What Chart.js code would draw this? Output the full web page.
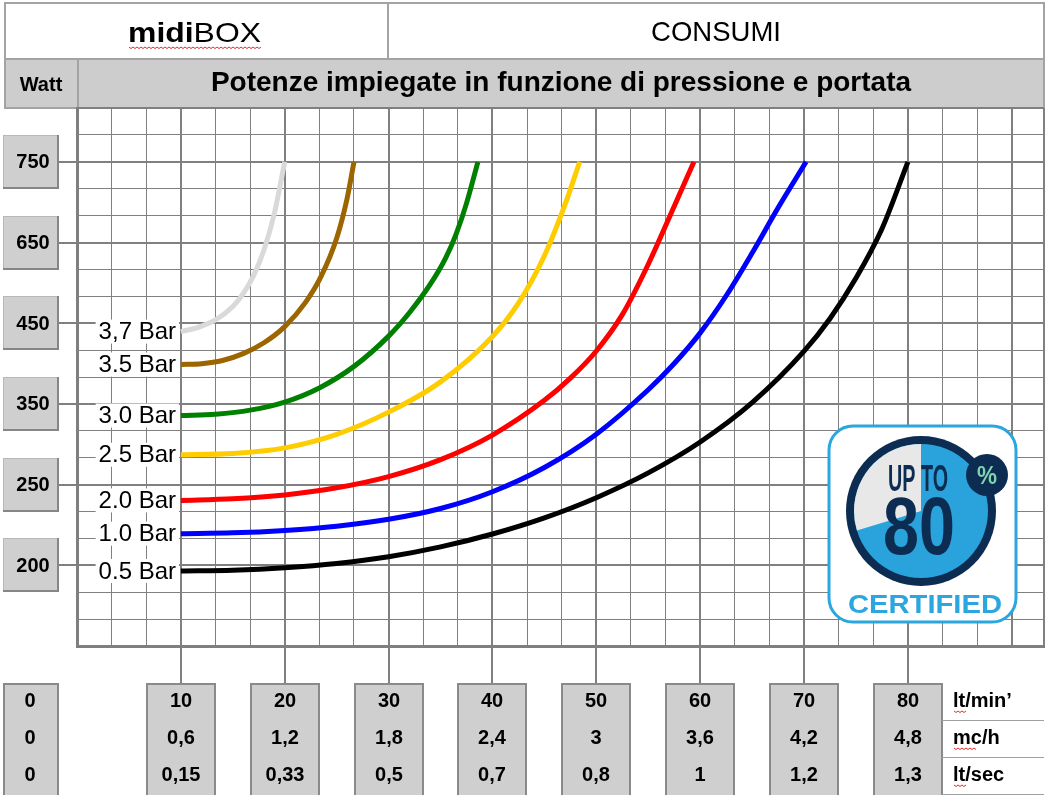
<!DOCTYPE html>
<html>
<head>
<meta charset="utf-8">
<style>
  html, body { margin: 0; padding: 0; background: #fff; }
  #wrap { width: 1055px; height: 806px; position: relative; }
</style>
<script src="https://cdn.jsdelivr.net/npm/chart.js@4.4.1/dist/chart.umd.min.js"></script>
</head>
<body>
<div id="wrap"><canvas id="myChart" width="1055" height="806"></canvas></div>
<script>
var flow37 = [10, 11.67, 13.33, 15, 16, 17, 18, 19, 20];
var watt37 = [439.6, 444.8, 458, 491.4, 523.2, 567.8, 631.4, 685.9, 750];
var flow35 = [10, 12, 14, 16, 18, 20, 22, 23.5, 25, 26, 26.67];
var watt35 = [398.8, 399.8, 403.8, 412.3, 425.8, 445.8, 501.6, 566, 655.3, 704.3, 750];
var flow30 = [10, 13.33, 16.67, 20, 23.33, 26.67, 30, 32, 34, 35.5, 36.5, 37.5, 38.6];
var watt30 = [335.6, 337.3, 342.3, 352.3, 369.8, 396.5, 434, 476, 546, 612, 660.5, 698.5, 750];
var flow25 = [10, 15, 20, 25, 30, 35, 40, 42.5, 45, 47, 48.4];
var watt25 = [287, 288.5, 295.5, 312.3, 339.8, 377.3, 433.5, 499.5, 617, 697.5, 750];
var flow20 = [10, 15, 20, 25, 30, 35, 40, 45, 47.5, 50, 52.5, 55, 57.5, 59.4];
var watt20 = [240.2, 241.2, 243.6, 248, 259.9, 280.9, 311.4, 354.4, 381.9, 415.6, 471.2, 596.2, 695, 750];
var flow10 = [10, 15, 20, 25, 30, 35, 40, 45, 50, 55, 57.5, 60, 62.5, 65, 67.5, 70.2];
var watt10 = [219.6, 220.1, 221.6, 224.2, 228.5, 235.2, 245.6, 271.2, 312.5, 367.5, 400, 438, 518, 624, 693, 750];
var flow05 = [10, 15, 20, 25, 30, 35, 40, 45, 50, 55, 60, 65, 70, 72.5, 75, 77.5, 80];
var watt05 = [196.5, 197, 198.5, 201.1, 205.3, 211.4, 219.4, 229.4, 241.9, 264.5, 302.8, 351.5, 415.3, 461.8, 561.8, 667.1, 750];

var seriesLabels = ['3,7 Bar', '3.5 Bar', '3.0 Bar', '2.5 Bar', '2.0 Bar', '1.0 Bar', '0.5 Bar'];
var seriesColors = ['#d9d9d9', '#9c6500', '#008000', '#ffcc00', '#ff0000', '#0000ff', '#000000'];

// scala Watt (non lineare) e righe della tabella in basso
var wattTicks = [200, 250, 350, 450, 650, 750];
var flowTicks = [10, 20, 30, 40, 50, 60, 70, 80];
var lpmLabels = ['10', '20', '30', '40', '50', '60', '70', '80'];
var m3hLabels = ['0,6', '1,2', '1,8', '2,4', '3', '3,6', '4,2', '4,8'];
var lpsLabels = ['0,15', '0,33', '0,5', '0,7', '0,8', '1', '1,2', '1,3'];
var zeroLabels = ['0', '0', '0'];
var unitLabels = ['lt/min\u2019', 'mc/h', 'lt/sec'];

var FONT = "'Liberation Sans', Arial, sans-serif";
var X_MAX = 93.1;
var Y_MIN = -1, Y_MAX = 17 / 3;

// Watt -> posizione sulla griglia (ogni etichetta Watt occupa un riquadro grande)
function wattToPos(w) {
    var t = wattTicks;
    if (w <= t[0]) return (w - t[0]) / (t[1] - t[0]);
    for (var i = 1; i < t.length; i++) {
        if (w <= t[i]) return i - 1 + (w - t[i - 1]) / (t[i] - t[i - 1]);
    }
    var n = t.length - 1;
    return n + (w - t[n]) / (t[n] - t[n - 1]);
}

function points(flow, watt) {
    return flow.map(function (f, i) { return { x: f, y: wattToPos(watt[i]) }; });
}

var seriesData = [
    points(flow37, watt37), points(flow35, watt35), points(flow30, watt30),
    points(flow25, watt25), points(flow20, watt20), points(flow10, watt10),
    points(flow05, watt05)
];

function isWhole(v) { return Math.abs(v - Math.round(v)) < 1e-6; }

function grayBox(ctx, x, y, w, h) {
    ctx.fillStyle = '#cfcfcf';
    ctx.fillRect(x, y, w, h);
    ctx.strokeStyle = '#b8b8b8';
    ctx.lineWidth = 1;
    ctx.strokeRect(x + 0.5, y + 0.5, w - 1, h - 1);
    ctx.strokeStyle = '#868686';
    ctx.lineWidth = 2;
    ctx.beginPath();
    ctx.moveTo(x + w - 1, y);
    ctx.lineTo(x + w - 1, y + h - 1);
    ctx.lineTo(x, y + h - 1);
    ctx.stroke();
}

function openBox(ctx, x, y, w, h) {
    ctx.fillStyle = '#cfcfcf';
    ctx.fillRect(x, y, w, h);
    ctx.strokeStyle = '#8a8a8a';
    ctx.lineWidth = 2;
    ctx.beginPath();
    ctx.moveTo(x + 1, y + h);
    ctx.lineTo(x + 1, y + 1);
    ctx.lineTo(x + w - 1, y + 1);
    ctx.lineTo(x + w - 1, y + h);
    ctx.stroke();
}

function squiggle(ctx, x1, x2, y) {
    ctx.save();
    ctx.strokeStyle = '#e03030';
    ctx.lineWidth = 1;
    ctx.beginPath();
    ctx.moveTo(x1, y);
    for (var x = x1, k = 0; x <= x2; x += 2, k++) ctx.lineTo(x, y + (k % 2 ? 1.5 : 0));
    ctx.stroke();
    ctx.restore();
}

function fitText(ctx, txt, cx, y, font, color, width) {
    ctx.save();
    ctx.font = font;
    ctx.fillStyle = color;
    ctx.textAlign = 'center';
    ctx.textBaseline = 'alphabetic';
    var s = width / ctx.measureText(txt).width;
    ctx.translate(cx, y);
    ctx.scale(s, 1);
    ctx.fillText(txt, 0, 0);
    ctx.restore();
}

function roundRect(ctx, x, y, w, h, r) {
    ctx.beginPath();
    ctx.moveTo(x + r, y);
    ctx.arcTo(x + w, y, x + w, y + h, r);
    ctx.arcTo(x + w, y + h, x, y + h, r);
    ctx.arcTo(x, y + h, x, y, r);
    ctx.arcTo(x, y, x + w, y, r);
    ctx.closePath();
}

var tablePlugin = {
    id: 'tablePlugin',
    beforeDraw: function (chart) {
        var ctx = chart.ctx;
        var xs = chart.scales.x, ys = chart.scales.y;
        var area = chart.chartArea;
        ctx.save();
        ctx.fillStyle = '#fff';
        ctx.fillRect(0, 0, chart.width, chart.height);

        // intestazione
        ctx.fillStyle = '#cdcdcd';
        ctx.fillRect(5, 59, area.right - 5, area.top - 59);
        ctx.strokeStyle = '#a3a3a3';
        ctx.lineWidth = 2;
        ctx.strokeRect(5, 3, area.right - 5, area.top - 3);
        ctx.beginPath();
        ctx.moveTo(5, 59); ctx.lineTo(area.right, 59);
        ctx.moveTo(388, 3); ctx.lineTo(388, 59);
        ctx.moveTo(area.left + 1, 59); ctx.lineTo(area.left + 1, area.top);
        ctx.stroke();

        // midiBOX: "midi" grassetto + "BOX" normale
        ctx.save();
        ctx.fillStyle = '#000';
        ctx.textBaseline = 'alphabetic';
        ctx.font = 'bold 28px ' + FONT;
        var w1 = ctx.measureText('midi').width;
        ctx.font = '28px ' + FONT;
        var w2 = ctx.measureText('BOX').width;
        var s = 133 / (w1 + w2);
        ctx.translate(128, 42);
        ctx.scale(s, 1);
        ctx.font = 'bold 28px ' + FONT;
        ctx.fillText('midi', 0, 0);
        ctx.font = '28px ' + FONT;
        ctx.fillText('BOX', w1, 0);
        ctx.restore();
        squiggle(ctx, 129, 261, 47);

        ctx.fillStyle = '#000';
        ctx.textAlign = 'center';
        ctx.textBaseline = 'alphabetic';
        ctx.font = '27.5px ' + FONT;
        ctx.fillText('CONSUMI', 716, 41);
        ctx.font = 'bold 28px ' + FONT;
        ctx.fillText('Potenze impiegate in funzione di pressione e portata', 561, 91);
        ctx.font = 'bold 20px ' + FONT;
        ctx.fillText('Watt', 41, 91);

        // etichette Watt a sinistra
        ctx.textBaseline = 'middle';
        wattTicks.forEach(function (w) {
            var py = ys.getPixelForValue(wattToPos(w));
            ctx.strokeStyle = '#808080';
            ctx.lineWidth = 2;
            ctx.beginPath();
            ctx.moveTo(58, Math.round(py)); ctx.lineTo(area.left, Math.round(py));
            ctx.stroke();
            grayBox(ctx, 3, Math.round(py) - 27, 56, 54);
            ctx.fillStyle = '#000';
            ctx.font = 'bold 20px ' + FONT;
            ctx.fillText(String(w), 33, py + 1);
        });

        // tabella portate in basso
        var rowY = [701, 738, 775];
        var boxTop = 683, boxH = 112;
        openBox(ctx, 3, boxTop, 56, boxH);
        ctx.fillStyle = '#000';
        zeroLabels.forEach(function (t, r) { ctx.fillText(t, 30, rowY[r]); });
        flowTicks.forEach(function (f, i) {
            var px = Math.round(xs.getPixelForValue(f));
            ctx.strokeStyle = '#808080';
            ctx.lineWidth = 2;
            ctx.beginPath();
            ctx.moveTo(px, area.bottom); ctx.lineTo(px, boxTop);
            ctx.stroke();
            openBox(ctx, px - 35, boxTop, 70, boxH);
            ctx.fillStyle = '#000';
            ctx.font = 'bold 20px ' + FONT;
            ctx.fillText(lpmLabels[i], px, rowY[0]);
            ctx.fillText(m3hLabels[i], px, rowY[1]);
            ctx.fillText(lpsLabels[i], px, rowY[2]);
        });
        ctx.textAlign = 'left';
        unitLabels.forEach(function (t, r) { ctx.fillText(t, 953, rowY[r]); });
        squiggle(ctx, 954, 966, rowY[0] + 10);
        squiggle(ctx, 954, 976, rowY[1] + 10);
        squiggle(ctx, 954, 966, rowY[2] + 10);
        ctx.strokeStyle = '#a0a0a0';
        ctx.lineWidth = 1;
        ctx.beginPath();
        [720.5, 757.5, 794.5].forEach(function (yy) { ctx.moveTo(942, yy); ctx.lineTo(area.right, yy); });
        ctx.stroke();
        ctx.restore();
    },
    afterDatasetsDraw: function (chart) {
        var ctx = chart.ctx;
        ctx.save();
        // etichette delle curve
        ctx.font = '24px ' + FONT;
        ctx.textAlign = 'right';
        ctx.textBaseline = 'middle';
        chart.data.datasets.forEach(function (ds, i) {
            var pt = chart.getDatasetMeta(i).data[0];
            var w = ctx.measureText(ds.label).width;
            ctx.fillStyle = '#fff';
            ctx.fillRect(176 - w - 3, pt.y - 12, w + 6, 24);
            ctx.fillStyle = '#000';
            ctx.fillText(ds.label, 176, pt.y + 1);
        });

        // bollino "UP TO 80% CERTIFIED"
        roundRect(ctx, 829, 426, 187, 196, 24);
        ctx.fillStyle = '#fff';
        ctx.fill();
        ctx.strokeStyle = '#2ba6de';
        ctx.lineWidth = 3;
        ctx.stroke();
        var cx = 921, cy = 511;
        ctx.fillStyle = '#0c2c51';
        ctx.beginPath(); ctx.arc(cx, cy, 75, 0, Math.PI * 2); ctx.fill();
        ctx.fillStyle = '#2aa3dc';
        ctx.beginPath(); ctx.arc(cx, cy, 67, 0, Math.PI * 2); ctx.fill();
        ctx.fillStyle = '#e8e8e8';
        ctx.beginPath();
        ctx.moveTo(cx, cy);
        ctx.arc(cx, cy, 67, -Math.PI / 2, 163 * Math.PI / 180, true);
        ctx.closePath();
        ctx.fill();
        ctx.fillStyle = '#0c2c51';
        ctx.beginPath(); ctx.arc(987, 475, 21, 0, Math.PI * 2); ctx.fill();
        fitText(ctx, '%', 987, 484, 'bold 26px ' + FONT, '#7fd3b1', 20);
        fitText(ctx, 'UP TO', 918, 491, 'bold 36px ' + FONT, '#0c2c51', 60);
        fitText(ctx, '80', 919, 554, 'bold 82px ' + FONT, '#0c2c51', 72);
        fitText(ctx, 'CERTIFIED', 925, 613, 'bold 25px ' + FONT, '#2ba6de', 154);
        ctx.restore();
    }
};

function gridStyle(major) {
    return {
        drawTicks: false,
        color: '#808080',
        lineWidth: function (c) {
            var v = c.tick ? c.tick.value : 0;
            if (v === X_MAX || v === Y_MAX) return 2;
            return major(v) ? 2 : 1;
        }
    };
}

var ctx = document.getElementById('myChart').getContext('2d');
var chart = new Chart(ctx, {
    type: 'line',
    data: {
        datasets: seriesLabels.map(function (label, i) {
            return {
                label: label,
                data: seriesData[i],
                borderColor: seriesColors[i],
                backgroundColor: seriesColors[i],
                borderWidth: 5,
                fill: false,
                pointRadius: 0,
                cubicInterpolationMode: 'monotone',
                borderCapStyle: 'butt'
            };
        })
    },
    options: {
        responsive: false,
        animation: false,
        devicePixelRatio: 1,
        layout: { padding: { left: 77, right: 11, top: 108, bottom: 160 } },
        plugins: { legend: { display: false }, tooltip: { enabled: false } },
        scales: {
            x: {
                type: 'linear',
                min: 0,
                max: X_MAX,
                afterBuildTicks: function (scale) {
                    var t = [];
                    for (var i = 0; i <= 27; i++) t.push({ value: (i * 10) / 3 });
                    t.push({ value: X_MAX });
                    scale.ticks = t;
                },
                ticks: { display: false },
                grid: gridStyle(function (v) { return isWhole(v / 10); }),
                border: { display: true, color: '#7f7f7f', width: 3 }
            },
            y: {
                type: 'linear',
                min: Y_MIN,
                max: Y_MAX,
                afterBuildTicks: function (scale) {
                    var t = [];
                    for (var i = 0; i <= 19; i++) t.push({ value: (i - 3) / 3 });
                    t.push({ value: Y_MAX });
                    scale.ticks = t;
                },
                ticks: { display: false },
                grid: gridStyle(function (v) { return isWhole(v); }),
                border: { display: true, color: '#7f7f7f', width: 3 }
            }
        }
    },
    plugins: [tablePlugin]
});
</script>
</body>
</html>
